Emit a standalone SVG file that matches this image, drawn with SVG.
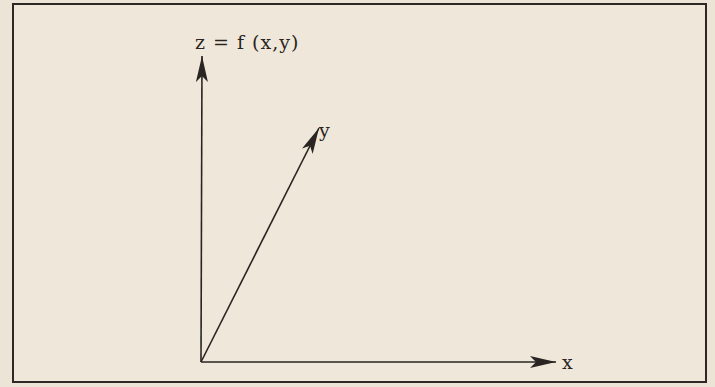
<svg xmlns="http://www.w3.org/2000/svg" width="715" height="387" viewBox="0 0 715 387">
<style>
.ax{stroke:#2a2522;stroke-width:1.6;fill:none}
.lbl{font-family:"DejaVu Serif",serif;font-size:19px;fill:#2a2522}
</style>
<defs>
<marker id="ah" viewBox="0 0 26 12" refX="26" refY="6" markerWidth="26" markerHeight="12" markerUnits="userSpaceOnUse" orient="auto">
<path d="M0,0 L26,6 L0,12 L6,6 Z" fill="#2a2522"/>
</marker>
</defs>
<rect x="0" y="0" width="715" height="387" fill="#ece4d6"/>
<rect x="13" y="4" width="693" height="378" fill="#efe8da" stroke="#2e2826" stroke-width="2"/>
<g id="connectors">
<line class="ax" x1="201" y1="362" x2="202" y2="56" marker-end="url(#ah)"/>
<line class="ax" x1="201" y1="362" x2="319" y2="128" marker-end="url(#ah)"/>
<line class="ax" x1="201" y1="362" x2="556" y2="362" marker-end="url(#ah)"/>
</g>
<g id="z-label"><text class="lbl" x="195" y="49" letter-spacing="1">z = f (x,y)</text></g>
<g id="y-label"><text class="lbl" x="319" y="137">y</text></g>
<g id="x-label"><text class="lbl" x="562" y="369">x</text></g>
</svg>
